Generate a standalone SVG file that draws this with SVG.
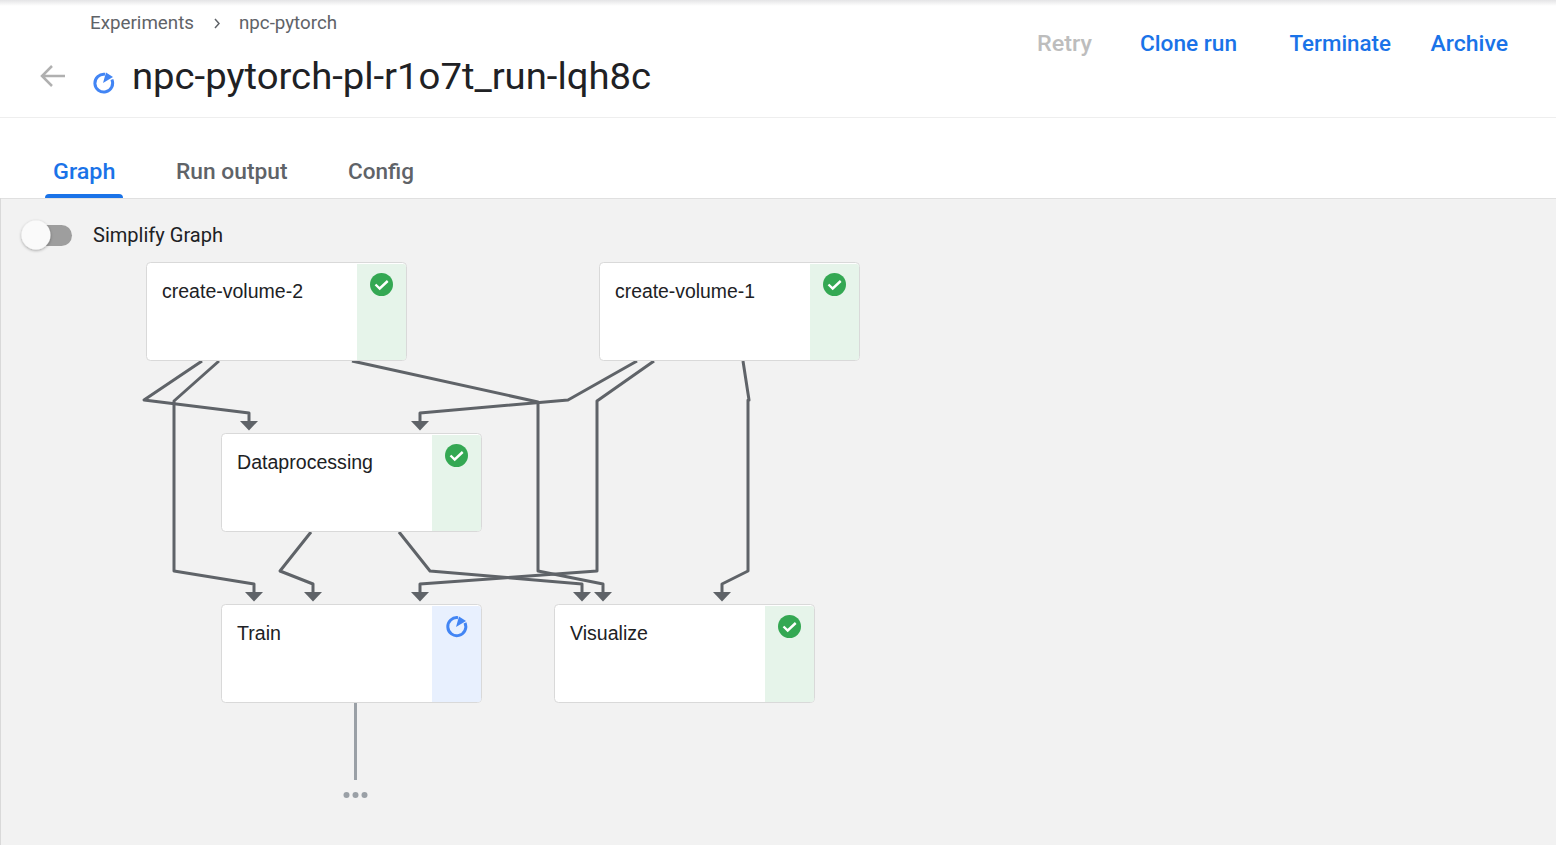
<svg xmlns="http://www.w3.org/2000/svg" width="1556" height="845" viewBox="0 0 1556 845">
<style>
text{font-family:Roboto,"Liberation Sans",sans-serif}
.node{fill:#fff;stroke:#d9d9d9;stroke-width:1}
.lbl{font-family:"Liberation Sans",Arial,sans-serif;font-size:20px;fill:#202124}
.ok{fill:#e6f4ea}
.act{fill:#e8f0fe}
.okc{fill:#34a853}
.chk{fill:none;stroke:#fff;stroke-width:2.4}
.run{fill:none;stroke:#4285f4;stroke-width:3}
.btn{font-size:22px;font-weight:500;fill:#1a73e8}
.tab{font-size:22px;font-weight:500;fill:#5f6368}
.e{fill:none;stroke:#5f6368;stroke-width:3;stroke-linejoin:round}
.bc{font-size:18px;fill:#5f6368}
</style>
<defs>
<marker id="ah" markerUnits="userSpaceOnUse" markerWidth="18" markerHeight="10" refX="9" refY="0" orient="0" viewBox="0 0 18 10"><path d="M0 0H18L9 9.500Z" fill="#5f6368"/></marker>
<filter id="sh" x="-50%" y="-50%" width="200%" height="200%"><feDropShadow dx="0" dy="1" stdDeviation="1.500" flood-color="#000" flood-opacity=".35"/></filter>
<linearGradient id="top" x1="0" y1="0" x2="0" y2="1"><stop offset="0" stop-color="#e4e4e6"/><stop offset="1" stop-color="#fff"/></linearGradient>
</defs>
<rect width="1556" height="845" fill="#fff"/>
<rect width="1556" height="6" fill="url(#top)"/>
<g id="header">
<text class="bc" x="90" y="29" textLength="104" lengthAdjust="spacingAndGlyphs">Experiments</text>
<path d="M215 19l4 4.500-4 4.500" fill="none" stroke="#5f6368" stroke-width="1.500"/>
<text class="bc" x="239" y="29" textLength="98" lengthAdjust="spacingAndGlyphs">npc-pytorch</text>
<path d="M65 76H43M52 66l-10 10 10 10" fill="none" stroke="#b0b0b0" stroke-width="2.500"/>
<g id="title-status"><path class="run" d="M105 74.300a8.900 8.900 0 1 0 6.900 5.200"/><path d="M103 83l3-10.500 7 4.500z" fill="#4285f4"/></g>
<text x="132" y="88.500" font-size="36" fill="#202124" textLength="519" lengthAdjust="spacingAndGlyphs">npc-pytorch-pl-r1o7t_run-lqh8c</text>
<text class="btn" x="1037" y="51" style="fill:#bdbdbd" textLength="55" lengthAdjust="spacingAndGlyphs">Retry</text>
<text class="btn" x="1140" y="51" textLength="97" lengthAdjust="spacingAndGlyphs">Clone run</text>
<text class="btn" x="1289.500" y="51" textLength="101.500" lengthAdjust="spacingAndGlyphs">Terminate</text>
<text class="btn" x="1430.500" y="51" textLength="77.500" lengthAdjust="spacingAndGlyphs">Archive</text>
<rect x="0" y="117" width="1556" height="1" fill="#eeeeee"/>
</g>
<g id="tabs">
<text class="tab" x="53" y="179" style="fill:#1a73e8" textLength="62.500" lengthAdjust="spacingAndGlyphs">Graph</text>
<text class="tab" x="176" y="179" textLength="111.500" lengthAdjust="spacingAndGlyphs">Run output</text>
<text class="tab" x="348" y="179" textLength="66" lengthAdjust="spacingAndGlyphs">Config</text>
</g>
<rect x="0" y="198" width="1556" height="647" fill="#f2f2f2"/>
<rect x="0" y="198" width="1556" height="1" fill="#e0e0e0"/>
<rect x="0" y="198" width="1" height="647" fill="#d9d9d9"/>
<path d="M45 198a4 4 0 0 1 4-4H119a4 4 0 0 1 4 4Z" fill="#1a73e8"/>
<g id="toggle">
<rect x="36" y="225" width="36" height="21" rx="10.500" fill="#9e9e9e"/>
<circle cx="36" cy="235" r="14.500" fill="#fafafa" filter="url(#sh)"/>
<text x="93" y="242" font-size="20" fill="#202124" textLength="130" lengthAdjust="spacingAndGlyphs">Simplify Graph</text>
</g>
<g id="connectors">
<path class="e" marker-end="url(#ah)" d="M202 361L144 400L249 413V421"/>
<path class="e" marker-end="url(#ah)" d="M219 361L174 401V571L254 584V592"/>
<path class="e" marker-end="url(#ah)" d="M352 361L538 402V571L603 584V592"/>
<path class="e" marker-end="url(#ah)" d="M637 361L568 400L420 413V421"/>
<path class="e" marker-end="url(#ah)" d="M654 361L597 401V571L420 584V592"/>
<path class="e" marker-end="url(#ah)" d="M743 361L749 400H748V571L722 584V592"/>
<path class="e" marker-end="url(#ah)" d="M311 532L280 571L313 584V592"/>
<path class="e" marker-end="url(#ah)" d="M399 532L430 571L582 584V592"/>
<path d="M355.500 703V780" fill="none" stroke="#9aa0a6" stroke-width="3"/>
</g>
<g id="more" fill="#9aa0a6"><circle cx="346.500" cy="795" r="3"/><circle cx="355.500" cy="795" r="3"/><circle cx="364.500" cy="795" r="3"/></g>
<g id="create-volume-2">
<rect class="node" x="146.500" y="262.500" width="260" height="98" rx="4"/>
<path class="ok" d="M357 264H403a3 3 0 0 1 3 3V357a3 3 0 0 1-3 3H357Z"/>
<circle class="okc" cx="381.500" cy="284.500" r="11.500"/><path class="chk" d="M375.500 284.500l4.200 4 8-7.500"/>
<text class="lbl" x="162" y="298" textLength="141" lengthAdjust="spacingAndGlyphs">create-volume-2</text>
</g>
<g id="create-volume-1">
<rect class="node" x="599.500" y="262.500" width="260" height="98" rx="4"/>
<path class="ok" d="M810 264H856a3 3 0 0 1 3 3V357a3 3 0 0 1-3 3H810Z"/>
<circle class="okc" cx="834.500" cy="284.500" r="11.500"/><path class="chk" d="M828.500 284.500l4.200 4 8-7.500"/>
<text class="lbl" x="615" y="298" textLength="140" lengthAdjust="spacingAndGlyphs">create-volume-1</text>
</g>
<g id="dataprocessing">
<rect class="node" x="221.500" y="433.500" width="260" height="98" rx="4"/>
<path class="ok" d="M432 435H478a3 3 0 0 1 3 3V528a3 3 0 0 1-3 3H432Z"/>
<circle class="okc" cx="456.500" cy="455.500" r="11.500"/><path class="chk" d="M450.500 455.500l4.200 4 8-7.500"/>
<text class="lbl" x="237" y="469" textLength="136" lengthAdjust="spacingAndGlyphs">Dataprocessing</text>
</g>
<g id="train">
<rect class="node" x="221.500" y="604.500" width="260" height="98" rx="4"/>
<path class="act" d="M432 606H478a3 3 0 0 1 3 3V699a3 3 0 0 1-3 3H432Z"/>
<path class="run" d="M458 617.700a9 9 0 1 0 7 5.200"/><path d="M456 627l3-10.500 7 4.500z" fill="#4285f4"/>
<text class="lbl" x="237" y="640" textLength="44" lengthAdjust="spacingAndGlyphs">Train</text>
</g>
<g id="visualize">
<rect class="node" x="554.500" y="604.500" width="260" height="98" rx="4"/>
<path class="ok" d="M765 606H811a3 3 0 0 1 3 3V699a3 3 0 0 1-3 3H765Z"/>
<circle class="okc" cx="789.500" cy="626.500" r="11.500"/><path class="chk" d="M783.500 626.500l4.200 4 8-7.500"/>
<text class="lbl" x="570" y="640" textLength="78" lengthAdjust="spacingAndGlyphs">Visualize</text>
</g>
</svg>
